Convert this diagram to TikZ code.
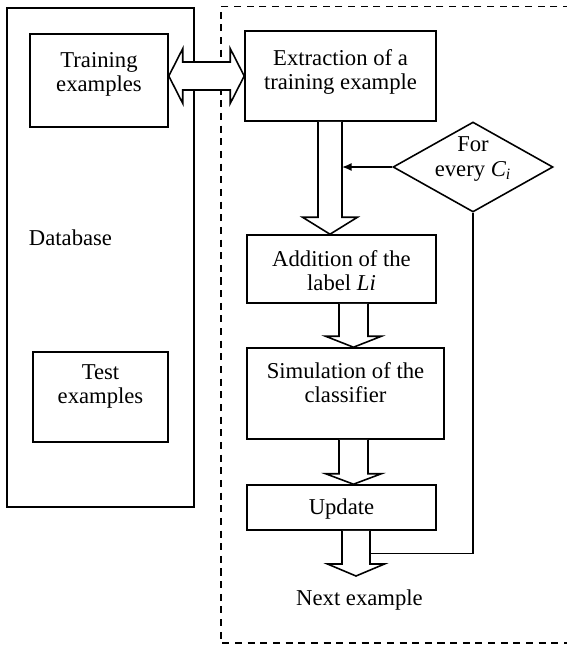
\documentclass[tikz,border=0pt]{standalone}
\usepackage{fontspec}
\setmainfont{Liberation Serif}
\usepackage{tikz}
\usetikzlibrary{positioning,calc,arrows.meta,shapes.geometric}

\tikzset{
  box/.style={draw, line width=0.9pt, inner sep=0pt},
  txt/.style={align=center, inner sep=0pt, font=\fontsize{12.9}{13.7}\selectfont},
  decision/.style={draw, diamond, line width=0.9pt, inner sep=0pt,
    minimum width=3.2cm, minimum height=1.8cm},
  link/.style={line width=0.9pt},
}

% hollow block arrow: from node, to point, x offset, shaft half, head half, head length
\newcommand{\blockarrow}[6]{%
  \draw[link, fill=white] let \p1=(#1.south), \p2=(#2) in
    (\x1+#3cm-#4cm,\y1) -- (\x1+#3cm-#4cm,\y2+#6cm) -- (\x1+#3cm-#5cm,\y2+#6cm)
    -- (\x1+#3cm,\y2) -- (\x1+#3cm+#5cm,\y2+#6cm) -- (\x1+#3cm+#4cm,\y2+#6cm)
    -- (\x1+#3cm+#4cm,\y1);}

\begin{document}
\begin{tikzpicture}
\useasboundingbox (0,0) rectangle (11.34,-12.92);

% database side
\node[box, minimum width=3.74cm, minimum height=9.98cm] (db) at (2.01,-5.15) {};
\node[txt] (db-t) at (1.41,-4.75) {Database};
\node[box, minimum width=2.76cm, minimum height=1.86cm] (train) at (1.98,-1.61) {};
\node[txt, below=0.37cm of train.north] (train-t) {Training\\examples};
\node[box, minimum width=2.7cm, minimum height=1.8cm] (test) at (2.01,-7.94) {};
\node[txt, below=0.26cm of test.north] (test-t) {Test\\examples};

\draw[link, dash pattern=on 4pt off 3.2pt] (11.4,-0.13) -- (4.42,-0.13) -- (4.42,-12.86) -- (11.4,-12.86);

% learning loop
\node[box, minimum width=3.82cm, minimum height=1.8cm] (extract) at (6.81,-1.52) {};
\node[txt, below=0.37cm of extract.north] (extract-t) {Extraction of a\\training example};
\node[box, minimum width=3.78cm, minimum height=1.36cm] (addlabel) at (6.83,-5.38) {};
\node[txt, below=0.32cm of addlabel.north] (addlabel-t) {Addition of the\\label \textit{Li}};
\node[box, minimum width=3.94cm, minimum height=1.82cm] (simul) at (6.91,-7.87) {};
\node[txt, below=0.29cm of simul.north] (simul-t) {Simulation of the\\classifier};
\node[box, minimum width=3.78cm, minimum height=0.9cm] (update) at (6.83,-10.15) {};
\node[txt, below=0.29cm of update.north] (update-t) {Update};
\node[decision] (every) at (9.46,-3.34) {};
\node[txt, yshift=0.16cm] (every-t) at (every) {For\\every \textit{C\textsubscript{i}}};
\node[txt, anchor=north, inner ysep=0.27cm] (next) at (7.19,-11.52) {Next example};

\draw[link, fill=white] let \p1=(train.east), \p2=(extract.west) in
  (\x1,\y2) -- (\x1+0.28cm,\y2+0.55cm) -- (\x1+0.28cm,\y2+0.28cm)
  -- (\x2-0.28cm,\y2+0.28cm) -- (\x2-0.28cm,\y2+0.55cm) -- (\x2,\y2)
  -- (\x2-0.28cm,\y2-0.55cm) -- (\x2-0.28cm,\y2-0.28cm)
  -- (\x1+0.28cm,\y2-0.28cm) -- (\x1+0.28cm,\y2-0.55cm) -- cycle;

\blockarrow{extract}{addlabel.north}{-0.21}{0.24}{0.55}{0.34}
\blockarrow{addlabel}{simul.north}{0.24}{0.29}{0.56}{0.22}
\blockarrow{simul}{update.north}{0.16}{0.29}{0.56}{0.21}
\blockarrow{update}{next.north}{0.29}{0.28}{0.57}{0.24}

\coordinate (join) at ([xshift=0.03cm]extract.south);
\draw[link, -{Latex[length=1.9mm,width=1.6mm]}] (every.west) -- (every.west -| join);
\coordinate (back) at ([shift={(0.57,-0.45)}]update.south);
\draw[link] (every.south) |- (back);
\end{tikzpicture}
\end{document}
